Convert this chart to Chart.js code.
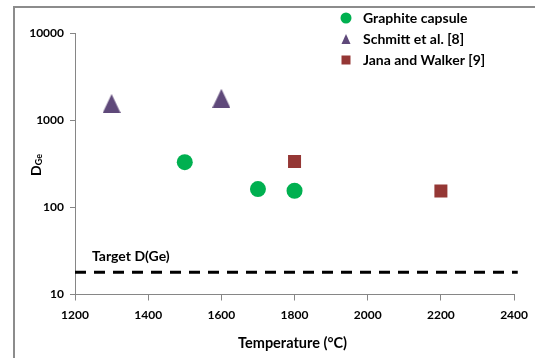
<!DOCTYPE html>
<html>
<head>
<meta charset="utf-8">
<script src="https://cdn.jsdelivr.net/npm/chart.js@4/dist/chart.umd.min.js"></script>
<style>
  html, body { margin: 0; padding: 0; background: #fff; }
  #wrap { width: 535px; height: 358px; }
</style>
</head>
<body>
<div id="wrap"><canvas id="c" width="535" height="358"></canvas></div>
<script>
// Ge partition coefficients versus temperature
const graphiteTemps = [1500, 1700, 1800];
const graphiteD     = [330, 162, 155];
const schmittTemps  = [1300, 1600];
const schmittD      = [1550, 1780];
const janaTemps     = [1800, 2200];
const janaD         = [336, 154];
const targetD       = 18;
const targetSpan    = [1200, 2410];
const xTicks        = [1200, 1400, 1600, 1800, 2000, 2200, 2400];
const yTicks        = [10, 100, 1000, 10000];

const GREEN  = '#00B050';
const PURPLE = '#5F497A';
const RED    = '#953735';
const AXIS   = '#868686';
const FONT   = 'Lato, "Liberation Sans", sans-serif';

// Excel-style triangle marker (centred on its bounding box)
function triangleMarker(w, h, color) {
  const cv = document.createElement('canvas');
  cv.width = w; cv.height = h;
  const g = cv.getContext('2d');
  g.fillStyle = color;
  g.beginPath();
  g.moveTo(w / 2, 0);
  g.lineTo(w, h);
  g.lineTo(0, h);
  g.closePath();
  g.fill();
  return cv;
}
const triBig = triangleMarker(18, 19, PURPLE);

const pts = (xs, ys) => xs.map((x, i) => ({ x: x, y: ys[i] }));

// frame, axis titles, target label and legend
const decorations = {
  id: 'decorations',
  beforeDraw(chart) {
    const ctx = chart.ctx;
    ctx.save();
    ctx.strokeStyle = '#8c8c8c';
    ctx.lineWidth = 2;
    ctx.beginPath();
    ctx.moveTo(535, 7);
    ctx.lineTo(14, 7);
    ctx.lineTo(14, 358);
    ctx.stroke();
    ctx.restore();
  },
  afterDraw(chart) {
    const ctx = chart.ctx;
    const xs = chart.scales.x, ys = chart.scales.y;
    ctx.save();
    ctx.fillStyle = '#000';
    ctx.textBaseline = 'middle';

    // x-axis title
    ctx.font = 'bold 14.5px ' + FONT;
    ctx.textAlign = 'center';
    ctx.fillText('Temperature (°C)', (xs.left + xs.right) / 2 - 2, 343);

    // y-axis title D with subscript Ge
    ctx.save();
    ctx.translate(36, 165);
    ctx.rotate(-Math.PI / 2);
    ctx.textAlign = 'left';
    ctx.font = 'bold 14px ' + FONT;
    const dW = ctx.measureText('D').width;
    ctx.font = 'bold 9px ' + FONT;
    const gW = ctx.measureText('Ge').width;
    const start = -(dW + gW) / 2;
    ctx.font = 'bold 14px ' + FONT;
    ctx.fillText('D', start, 0);
    ctx.font = 'bold 9px ' + FONT;
    ctx.fillText('Ge', start + dW, 3);
    ctx.restore();

    // target label
    ctx.font = 'bold 14px ' + FONT;
    ctx.textAlign = 'left';
    ctx.fillText('Target D(Ge)', 92, ys.getPixelForValue(targetD) - 16);

    // legend
    const rows = [
      { label: 'Graphite capsule', kind: 'circle', color: GREEN },
      { label: 'Schmitt et al. [8]', kind: 'tri', color: PURPLE },
      { label: 'Jana and Walker [9]', kind: 'rect', color: RED }
    ];
    ctx.font = 'bold 14px ' + FONT;
    rows.forEach((r, i) => {
      const cy = 18 + i * 21;
      const cx = 346;
      ctx.fillStyle = r.color;
      ctx.beginPath();
      if (r.kind === 'circle') {
        ctx.arc(cx, cy, 5.5, 0, Math.PI * 2);
      } else if (r.kind === 'tri') {
        ctx.moveTo(cx, cy - 5);
        ctx.lineTo(cx + 4.5, cy + 5);
        ctx.lineTo(cx - 4.5, cy + 5);
        ctx.closePath();
      } else {
        ctx.rect(cx - 4.5, cy - 4.5, 9, 9);
      }
      ctx.fill();
      ctx.fillStyle = '#000';
      ctx.fillText(r.label, 363, cy);
    });
    ctx.restore();
  }
};

new Chart(document.getElementById('c'), {
  type: 'scatter',
  data: {
    datasets: [
      {
        label: 'Target D(Ge)',
        type: 'line',
        data: targetSpan.map(x => ({ x: x, y: targetD })),
        borderColor: '#000',
        borderWidth: 3,
        borderDash: [11, 8],
        pointRadius: 0,
        fill: false,
        clip: false,
        order: 4
      },
      {
        label: 'Graphite capsule',
        data: pts(graphiteTemps, graphiteD),
        pointStyle: 'circle',
        pointRadius: 8,
        backgroundColor: GREEN,
        borderColor: GREEN,
        borderWidth: 0,
        order: 1
      },
      {
        label: 'Schmitt et al. [8]',
        data: pts(schmittTemps, schmittD),
        pointStyle: triBig,
        backgroundColor: PURPLE,
        borderColor: PURPLE,
        order: 2
      },
      {
        label: 'Jana and Walker [9]',
        data: pts(janaTemps, janaD),
        pointStyle: 'rect',
        pointRadius: 9.2,
        backgroundColor: RED,
        borderColor: RED,
        borderWidth: 0,
        order: 3
      }
    ]
  },
  options: {
    responsive: false,
    animation: false,
    devicePixelRatio: 1,
    layout: { padding: { left: 0, right: 18, top: 33, bottom: 0 } },
    plugins: {
      legend: { display: false },
      tooltip: { enabled: false }
    },
    scales: {
      x: {
        type: 'linear',
        min: xTicks[0],
        max: xTicks[xTicks.length - 1],
        afterBuildTicks: s => { s.ticks = xTicks.map(v => ({ value: v })); },
        afterFit: s => { s.height = 63.5; },
        border: { color: AXIS, width: 1 },
        grid: { drawOnChartArea: false, tickLength: 6, color: AXIS },
        ticks: {
          padding: 7,
          color: '#000',
          font: { family: FONT, size: 12, weight: 'bold' },
          callback: v => String(v)
        }
      },
      y: {
        type: 'logarithmic',
        min: yTicks[0],
        max: yTicks[yTicks.length - 1],
        afterBuildTicks: s => { s.ticks = yTicks.map(v => ({ value: v })); },
        afterFit: s => { s.width = 75; },
        border: { color: AXIS, width: 1 },
        grid: { drawOnChartArea: false, tickLength: 5, color: AXIS },
        ticks: {
          padding: 6,
          color: '#000',
          font: { family: FONT, size: 12, weight: 'bold' },
          callback: v => String(v)
        }
      }
    }
  },
  plugins: [decorations]
});
</script>
</body>
</html>
